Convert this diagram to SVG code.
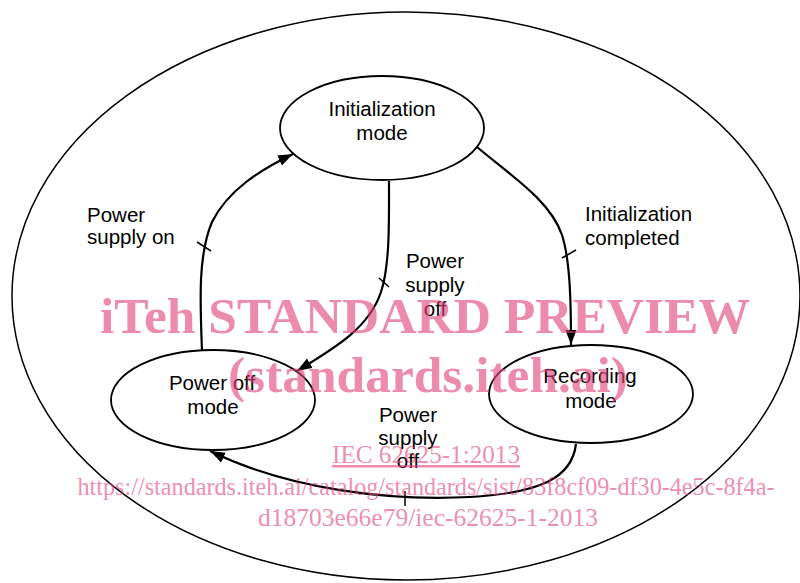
<svg xmlns="http://www.w3.org/2000/svg" width="800" height="583" viewBox="0 0 800 583">
  <style>
    .state { fill: #ffffff; stroke: #000000; stroke-width: 1.8; }
    .label { font-family: "Liberation Sans", Arial, sans-serif; font-size: 20.5px; fill: #000000; }
    .mid { text-anchor: middle; }
    .edge { fill: none; stroke: #000000; stroke-width: 2.2; marker-end: url(#arrow); }
    .tick { stroke: #000000; stroke-width: 1.5; }
    .mark { font-family: "Liberation Serif", "Times New Roman", serif; fill: #e0447a; fill-opacity: 0.62; text-anchor: middle; }
  </style>
  <defs>
    <marker id="arrow" markerUnits="userSpaceOnUse" markerWidth="16" markerHeight="12" refX="15" refY="5.5" orient="auto">
      <path d="M0,0 L15,5.5 L0,11 z" fill="#000000"/>
    </marker>
  </defs>

  <rect width="800" height="583" fill="#ffffff"/>

  <!-- system boundary -->
  <ellipse cx="406" cy="296" rx="394" ry="284" fill="none" stroke="#000000" stroke-width="1.5"/>

  <g id="connectors">
    <!-- power off -> initialization -->
    <path class="edge" d="M202,351 C200,300 198,255 212,222 C228,190 260,170 293,154"/>
    <line class="tick" x1="197" y1="242" x2="211" y2="251"/>
    <!-- initialization -> power off -->
    <path class="edge" d="M389,181 C389,220 390,265 381,292 C369,328 335,348 297,371"/>
    <line class="tick" x1="379" y1="278" x2="389" y2="287"/>
    <!-- initialization -> recording -->
    <path class="edge" d="M477,147 C510,175 550,200 562,235 C570,260 571,300 571,345"/>
    <line class="tick" x1="562" y1="258" x2="576" y2="250"/>
    <!-- recording -> power off -->
    <path class="edge" d="M576,444 C572,478 540,493 470,497 C390,501 290,490 210,451"/>
    <line class="tick" x1="405" y1="491" x2="405" y2="506"/>
  </g>

  <g id="edge-labels">
    <text class="label" x="87" y="222">Power</text>
    <text class="label" x="87" y="244">supply on</text>
    <text class="label mid" x="435" y="268">Power</text>
    <text class="label mid" x="435" y="292">supply</text>
    <text class="label mid" x="435" y="316">off</text>
    <text class="label" x="585" y="221">Initialization</text>
    <text class="label" x="585" y="245">completed</text>
    <text class="label mid" x="408" y="422">Power</text>
    <text class="label mid" x="408" y="445">supply</text>
    <text class="label mid" x="408" y="468">off</text>
  </g>

  <g id="node-init">
    <ellipse class="state" cx="382" cy="128" rx="102" ry="52"/>
    <text class="label mid" x="382" y="116">Initialization</text>
    <text class="label mid" x="382" y="140">mode</text>
  </g>

  <g id="node-poweroff">
    <ellipse class="state" cx="213" cy="400" rx="102" ry="50"/>
    <text class="label mid" x="212" y="390">Power off</text>
    <text class="label mid" x="213" y="414">mode</text>
  </g>

  <g id="node-recording">
    <ellipse class="state" cx="591" cy="394" rx="102" ry="49"/>
    <text class="label mid" x="590" y="383">Recording</text>
    <text class="label mid" x="591" y="408">mode</text>
  </g>

  <!-- overprinted stamp -->
  <g id="stamp">
    <text class="mark" x="425" y="333" font-size="51" font-weight="bold" textLength="650" lengthAdjust="spacingAndGlyphs">iTeh STANDARD PREVIEW</text>
    <text class="mark" x="428" y="392" font-size="51" font-weight="bold" textLength="400" lengthAdjust="spacingAndGlyphs">(standards.iteh.ai)</text>
    <text class="mark" x="426" y="463" font-size="25" text-decoration="underline" textLength="188" lengthAdjust="spacingAndGlyphs">IEC 62625-1:2013</text>
    <text class="mark" x="426" y="495" font-size="25" textLength="697" lengthAdjust="spacingAndGlyphs">https://standards.iteh.ai/catalog/standards/sist/83f8cf09-df30-4e5c-8f4a-</text>
    <text class="mark" x="428" y="526" font-size="25" textLength="340" lengthAdjust="spacingAndGlyphs">d18703e66e79/iec-62625-1-2013</text>
  </g>
</svg>
